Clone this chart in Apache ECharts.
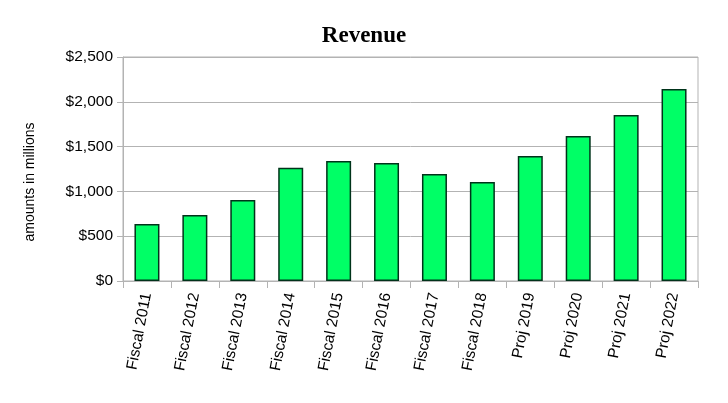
<!DOCTYPE html>
<html><head><meta charset="utf-8">
<script src="https://cdn.jsdelivr.net/npm/echarts@6/dist/echarts.min.js"></script>
<style>html,body{margin:0;padding:0;background:#fff}#c{width:728px;height:403px}</style>
</head><body><div id="c"></div>
<script>
const categories = ['Fiscal 2011','Fiscal 2012','Fiscal 2013','Fiscal 2014','Fiscal 2015','Fiscal 2016','Fiscal 2017','Fiscal 2018','Proj 2019','Proj 2020','Proj 2021','Proj 2022'];
const revenue = [636, 738, 905, 1265, 1340, 1318, 1195, 1105, 1395, 1618, 1853, 2143];
const yTicks = [0, 500, 1000, 1500, 2000, 2500];

const chart = echarts.init(document.getElementById('c'));
chart.setOption({
  animation: false,
  backgroundColor: '#fff',
  title: {
    text: 'Revenue', left: 'center', top: 20,
    textStyle: {fontFamily: 'Liberation Serif', fontWeight: 'bold', fontSize: 23, color: '#000'}
  },
  grid: {left: 123, right: 30, top: 57, bottom: 122, show: true, borderColor: '#b3b3b3', borderWidth: 1},
  xAxis: {
    type: 'category', data: categories,
    axisLine: {lineStyle: {color: '#b3b3b3'}},
    axisTick: {show: true, length: 7, lineStyle: {color: '#b3b3b3'}},
    axisLabel: {rotate: 79, margin: 12, fontFamily: 'Liberation Sans', fontSize: 15.5, color: '#000', interval: 0}
  },
  yAxis: {
    type: 'value', min: yTicks[0], max: yTicks[yTicks.length-1], interval: 500,
    name: 'amounts in millions', nameLocation: 'middle', nameGap: 86, nameRotate: 90,
    nameTextStyle: {fontFamily: 'Liberation Sans', fontSize: 14, color: '#000', padding: [0, 26, 0, 0]},
    axisLine: {show: true, lineStyle: {color: '#b3b3b3'}},
    axisTick: {show: true, length: 6, lineStyle: {color: '#b3b3b3'}},
    splitLine: {lineStyle: {color: '#b3b3b3'}},
    axisLabel: {margin: 10, fontFamily: 'Liberation Sans', fontSize: 15.5, color: '#000',
      formatter: v => '$' + v.toLocaleString('en-US')}
  },
  series: [{
    type: 'bar', data: revenue, barWidth: 25,
    itemStyle: {color: '#00ff66', borderColor: '#00331a', borderWidth: 1.5}
  }]
});
</script></body></html>
